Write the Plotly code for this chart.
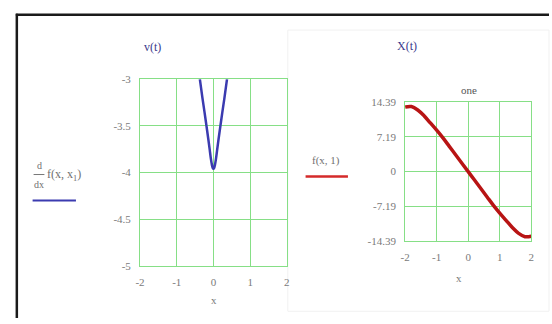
import plotly.graph_objects as go

W, H = 552, 324

# ---- data ----
left_x = [-0.37, -0.3, -0.24, -0.19, -0.14, -0.1, -0.07, -0.04, -0.02, 0.0, 0.02, 0.04, 0.07, 0.1, 0.14, 0.19, 0.24, 0.3, 0.37]
left_y = [-3.0, -3.2, -3.36, -3.5, -3.64, -3.76, -3.85, -3.92, -3.95, -3.96, -3.95, -3.92, -3.85, -3.76, -3.64, -3.5, -3.36, -3.2, -3.0]

right_x = [-2.0, -1.8, -1.6, -1.4, -1.2, -1.0, -0.8, -0.6, -0.4, -0.2, 0.0, 0.2, 0.4, 0.6, 0.8, 1.0, 1.2, 1.4, 1.6, 1.8, 2.0]
right_y = [13.4, 13.5, 12.8, 11.6, 10.1, 8.6, 7.0, 5.25, 3.5, 1.75, 0.0, -1.75, -3.5, -5.25, -7.0, -8.6, -10.1, -11.6, -12.8, -13.5, -13.4]

left_xticks = [-2, -1, 0, 1, 2]
left_xtick_text = ["-2", "-1", "0", "1", "2"]
left_yticks = [-3, -3.5, -4, -4.5, -5]
left_ytick_text = ["-3", "-3.5", "-4", "-4.5", "-5"]

right_xticks = [-2, -1, 0, 1, 2]
right_xtick_text = ["-2", "-1", "0", "1", "2"]
right_yticks = [14.39, 7.19, 0, -7.19, -14.39]
right_ytick_text = ["14.39", "7.19", "0", "-7.19", "-14.39"]

left_title = "v(t)"
right_title = "X(t)"
right_subtitle = "one"
axis_label = "x"
right_legend = "f(x, 1)"

# ---- helpers ----
def px(x):
    return x / W

def py(y):
    return 1 - y / H

GRID = "#86df86"
TICKFONT = dict(family="Liberation Serif", size=11, color="#7a7a7a")

fig = go.Figure()

fig.add_trace(go.Scatter(x=left_x, y=left_y, mode="lines", xaxis="x", yaxis="y",
                         line=dict(color="#3b3bb0", width=2.5, shape="spline"),
                         showlegend=False, hoverinfo="skip"))
fig.add_trace(go.Scatter(x=right_x, y=right_y, mode="lines", xaxis="x2", yaxis="y2",
                         line=dict(color="#b81414", width=3.5, shape="spline"),
                         showlegend=False, hoverinfo="skip"))

axcommon = dict(showgrid=True, gridcolor=GRID, gridwidth=1, zeroline=False,
                showline=True, linecolor=GRID, linewidth=1, mirror=True,
                tickmode="array", tickfont=TICKFONT, ticks="", ticklabelstandoff=6,
                fixedrange=True)

fig.update_layout(
    width=W, height=H,
    margin=dict(l=0, r=0, t=0, b=0),
    paper_bgcolor="white", plot_bgcolor="white",
    xaxis=dict(domain=[px(137), px(286)], range=[-2, 2], anchor="y",
               tickvals=left_xticks, ticktext=left_xtick_text, **axcommon),
    yaxis=dict(domain=[py(270), py(76)], range=[-5, -3], anchor="x",
               tickvals=left_yticks, ticktext=left_ytick_text, **axcommon),
    xaxis2=dict(domain=[px(406), px(534)], range=[-2, 2], anchor="y2",
                tickvals=right_xticks, ticktext=right_xtick_text, **axcommon),
    yaxis2=dict(domain=[py(244), py(100)], range=[-14.39, 14.39], anchor="x2",
                tickvals=right_yticks, ticktext=right_ytick_text, **axcommon),
)

shapes = [
    # faint white panel of right region
    dict(type="rect", xref="paper", yref="paper", x0=px(287), x1=px(552), y0=py(317), y1=py(25),
         line=dict(color="#f1f1f1", width=1), fillcolor="rgba(0,0,0,0)", layer="below"),
    # outer border (top and left)
    dict(type="line", xref="paper", yref="paper", x0=px(11), x1=1, y0=py(9), y1=py(9),
         line=dict(color="#1a1a1a", width=2.5)),
    dict(type="line", xref="paper", yref="paper", x0=px(12), x1=px(12), y0=py(8), y1=0,
         line=dict(color="#1a1a1a", width=2.5)),
    # legend swatches
    dict(type="line", xref="paper", yref="paper", x0=px(28), x1=px(72), y0=py(202), y1=py(202),
         line=dict(color="#3b3bb0", width=2)),
    dict(type="line", xref="paper", yref="paper", x0=px(305), x1=px(348), y0=py(177), y1=py(177),
         line=dict(color="#d42a2a", width=2.5)),
    # fraction bar of d/dx
    dict(type="line", xref="paper", yref="paper", x0=px(29), x1=px(40), y0=py(175), y1=py(175),
         line=dict(color="#777777", width=1)),
]
fig.update_layout(shapes=shapes)

SERIF = "Liberation Serif"
ann = [
    dict(x=px(150), y=py(43), text=left_title, font=dict(family=SERIF, size=12, color="#3a3a8c")),
    dict(x=px(408), y=py(42), text=right_title, font=dict(family=SERIF, size=12, color="#3a3a8c")),
    dict(x=px(471), y=py(87), text=right_subtitle, font=dict(family=SERIF, size=11, color="#555555")),
    dict(x=px(212), y=py(305), text=axis_label, font=dict(family=SERIF, size=11, color="#7a7a7a")),
    dict(x=px(461), y=py(282), text=axis_label, font=dict(family=SERIF, size=11, color="#7a7a7a")),
    dict(x=px(326), y=py(160), text=right_legend, font=dict(family=SERIF, size=11, color="#707070")),
    dict(x=px(34.5), y=py(166), text="d", font=dict(family=SERIF, size=10, color="#707070")),
    dict(x=px(34.5), y=py(185), text="dx", font=dict(family=SERIF, size=10, color="#707070")),
    dict(x=px(41), y=py(176), text="f(x, x<sub>1</sub>)", xanchor="left",
         font=dict(family=SERIF, size=12, color="#707070")),
]
for a in ann:
    a.setdefault("xanchor", "center")
    fig.add_annotation(xref="paper", yref="paper", yanchor="middle", showarrow=False, **a)

fig.write_html("out.html",
               config={"displayModeBar": False, "staticPlot": True},
               post_script="document.body.style.margin='0';document.body.style.padding='0';"
                           "document.documentElement.style.margin='0';")
